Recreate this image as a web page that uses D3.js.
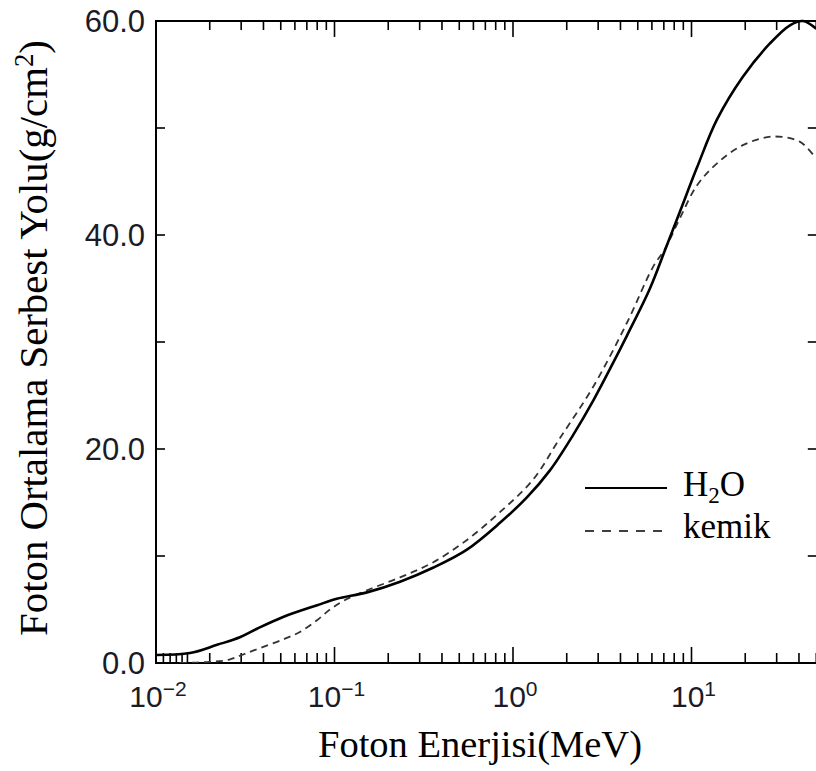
<!DOCTYPE html>
<html><head><meta charset="utf-8">
<script src="https://cdn.jsdelivr.net/npm/d3@7"></script>
<style>body{margin:0;background:#fff}svg{display:block}
.sf{font-family:"Liberation Serif","DejaVu Serif",serif}
.ss{font-family:"Liberation Sans",Arial,sans-serif}</style>
</head><body>
<svg id="c" width="816" height="771"></svg>
<script>
// ---- data ----
const energyH2O = [0.01,0.0155,0.022,0.0295,0.0368,0.0515,0.08,0.103,0.152,0.233,0.356,0.552,0.845,1.2,1.61,2.17,2.81,3.6,4.35,5.85,7.11,8.62,10.73,13.9,19.4,27.5,35.6,42.1,49.8];
const mfpH2O    = [0.75,0.93,1.7,2.4,3.2,4.3,5.4,6.0,6.6,7.6,8.9,10.6,13.1,15.5,18.0,21.3,24.5,27.9,30.6,35.0,38.6,42.2,46.3,50.8,54.8,57.9,59.6,60.0,59.3];
const energyBone = [0.0136,0.02,0.0255,0.0303,0.0383,0.0515,0.064,0.0798,0.0944,0.112,0.152,0.233,0.356,0.552,0.845,1.29,1.83,2.81,4.35,6.08,7.1,8.63,10.7,13.9,19.4,28.6,40.6,49.5];
const mfpBone    = [0.0,0.1,0.3,0.75,1.4,2.2,2.9,4.0,5.0,5.8,6.8,8.0,9.4,11.5,14.1,17.1,21.0,25.8,31.8,37.0,38.7,41.6,44.6,46.7,48.4,49.2,48.7,47.2];
const seriesNames = ["H2O","kemik"];
const yTickValues = [0,20,40,60];
const yTickLabels = ["0.0","20.0","40.0","60.0"];
const yMinorValues = [10,30,50];
const xMajorValues = [0.01,0.1,1,10];
const xMajorExponents = ["\u22122","\u22121","0","1"];
const xMinorValues = [0.02,0.03,0.04,0.05,0.06,0.07,0.08,0.09,
                      0.2,0.3,0.4,0.5,0.6,0.7,0.8,0.9,
                      2,3,4,5,6,7,8,9,
                      20,30,40,50];
const xBottomExtra = [0.011,0.012,0.013,0.014,0.015];
const xTitle = "Foton Enerjisi(MeV)";
const yTitle = "Foton Ortalama Serbest Yolu(g/cm";

// ---- layout ----
const L = 156, T = 21, B = 663, decade = 178.5;
const xMin = 0.01, xMax = 51;
const R = L + decade * Math.log10(xMax / xMin);

const svg = d3.select("#c");
const x = d3.scaleLog().domain([xMin, xMax]).range([L, R]);
const y = d3.scaleLinear().domain([0, 60]).range([B, T]);

// frame
svg.append("rect").attr("x", L).attr("y", T).attr("width", R - L).attr("height", B - T)
  .attr("fill", "none").attr("stroke", "#000").attr("stroke-width", 2);

const g = svg.append("g").attr("stroke", "#000").attr("stroke-width", 1.6);
g.selectAll(".xmajb").data(xMajorValues).enter().append("line")
  .attr("x1", d => x(d)).attr("x2", d => x(d)).attr("y1", B).attr("y2", B - 16);
g.selectAll(".xmint").data(xMajorValues).enter().append("line")
  .attr("x1", d => x(d)).attr("x2", d => x(d)).attr("y1", T).attr("y2", T + 16);
g.selectAll(".xminb").data(xMinorValues.concat(xBottomExtra)).enter().append("line")
  .attr("x1", d => x(d)).attr("x2", d => x(d)).attr("y1", B).attr("y2", B - 10);
g.selectAll(".xmintt").data(xMinorValues).enter().append("line")
  .attr("x1", d => x(d)).attr("x2", d => x(d)).attr("y1", T).attr("y2", T + 9);
const yAll = yTickValues.concat(yMinorValues).filter(v => v > 0 && v < 60);
g.selectAll(".yl").data(yAll).enter().append("line")
  .attr("x1", L).attr("x2", L + 9).attr("y1", d => y(d)).attr("y2", d => y(d));
g.selectAll(".yr").data(yAll).enter().append("line")
  .attr("x1", R).attr("x2", R - 10).attr("y1", d => y(d)).attr("y2", d => y(d));

// y tick labels
svg.selectAll(".ylab").data(yTickValues).enter().append("text").attr("class", "ss")
  .attr("x", 145).attr("y", d => y(d)).attr("dy", "0.36em")
  .attr("text-anchor", "end").attr("font-size", 31)
  .attr("fill", "#1b1b28").text((d, i) => yTickLabels[i]);

// x tick labels with superscripts
xMajorValues.forEach((v, i) => {
  const t = svg.append("text").attr("class", "ss").attr("x", x(v) + 2).attr("y", 707)
    .attr("text-anchor", "middle").attr("font-size", 30).attr("fill", "#1b1b28");
  t.append("tspan").text("10");
  t.append("tspan").attr("dy", -11).attr("font-size", 21).text(xMajorExponents[i]);
});

// axis titles, fitted to the reference extents
const xt = svg.append("text").attr("class", "sf").attr("x", 480).attr("y", 757).attr("text-anchor", "middle")
  .attr("font-size", 37).attr("fill", "#000").text(xTitle);
{
  const w = xt.node().getComputedTextLength();
  const fs = 37 * 324 / w;
  xt.attr("font-size", fs).attr("x", 318 + 162);
}
const ytG = svg.append("g");
const yt = ytG.append("text").attr("class", "sf").attr("x", 0).attr("y", 0)
  .attr("text-anchor", "start").attr("font-size", 38).attr("fill", "#000");
const ts1 = yt.append("tspan").text(yTitle);
const ts2 = yt.append("tspan").attr("dy", -13).attr("font-size", 25).text("2");
const ts3 = yt.append("tspan").attr("dy", 13).text(")");
{
  const w = yt.node().getBBox().width;
  const k = 596 / w;
  yt.attr("font-size", 38 * k);
  ts2.attr("font-size", 25 * k).attr("dy", -13 * k);
  ts3.attr("dy", 13 * k);
  const w2 = yt.node().getBBox().width;
  ytG.attr("transform", `translate(47,${338 + w2 / 2}) rotate(-90)`);
}

// curves
svg.append("clipPath").attr("id", "pc").append("rect")
  .attr("x", L).attr("y", T - 3).attr("width", R - L).attr("height", B - T + 3);
const line = d3.line().x(d => x(d[0])).y(d => y(d[1])).curve(d3.curveCatmullRom.alpha(0.5));
const h2o = energyH2O.map((e, i) => [e, mfpH2O[i]]);
const bone = energyBone.map((e, i) => [e, mfpBone[i]]);
svg.append("path").attr("d", line(bone)).attr("fill", "none").attr("stroke", "#333")
  .attr("stroke-width", 1.8).attr("stroke-dasharray", "7,5").attr("clip-path", "url(#pc)");
svg.append("path").attr("d", line(h2o)).attr("fill", "none").attr("stroke", "#000")
  .attr("stroke-width", 2.6).attr("clip-path", "url(#pc)");

// legend
const lg = svg.append("g");
lg.append("line").attr("x1", 585).attr("x2", 667).attr("y1", 488).attr("y2", 488)
  .attr("stroke", "#000").attr("stroke-width", 2);
lg.append("line").attr("x1", 585).attr("x2", 667).attr("y1", 531).attr("y2", 531)
  .attr("stroke", "#000").attr("stroke-width", 1.6).attr("stroke-dasharray", "9,8");
const t1 = lg.append("text").attr("class", "sf").attr("x", 683).attr("y", 496)
  .attr("font-size", 35).attr("fill", "#000");
t1.append("tspan").text("H");
t1.append("tspan").attr("dy", 7).attr("font-size", 23).text("2");
t1.append("tspan").attr("dy", -7).text("O");
lg.append("text").attr("class", "sf").attr("x", 683).attr("y", 538)
  .attr("font-size", 35).attr("fill", "#000").text(seriesNames[1]);
</script>
</body></html>
